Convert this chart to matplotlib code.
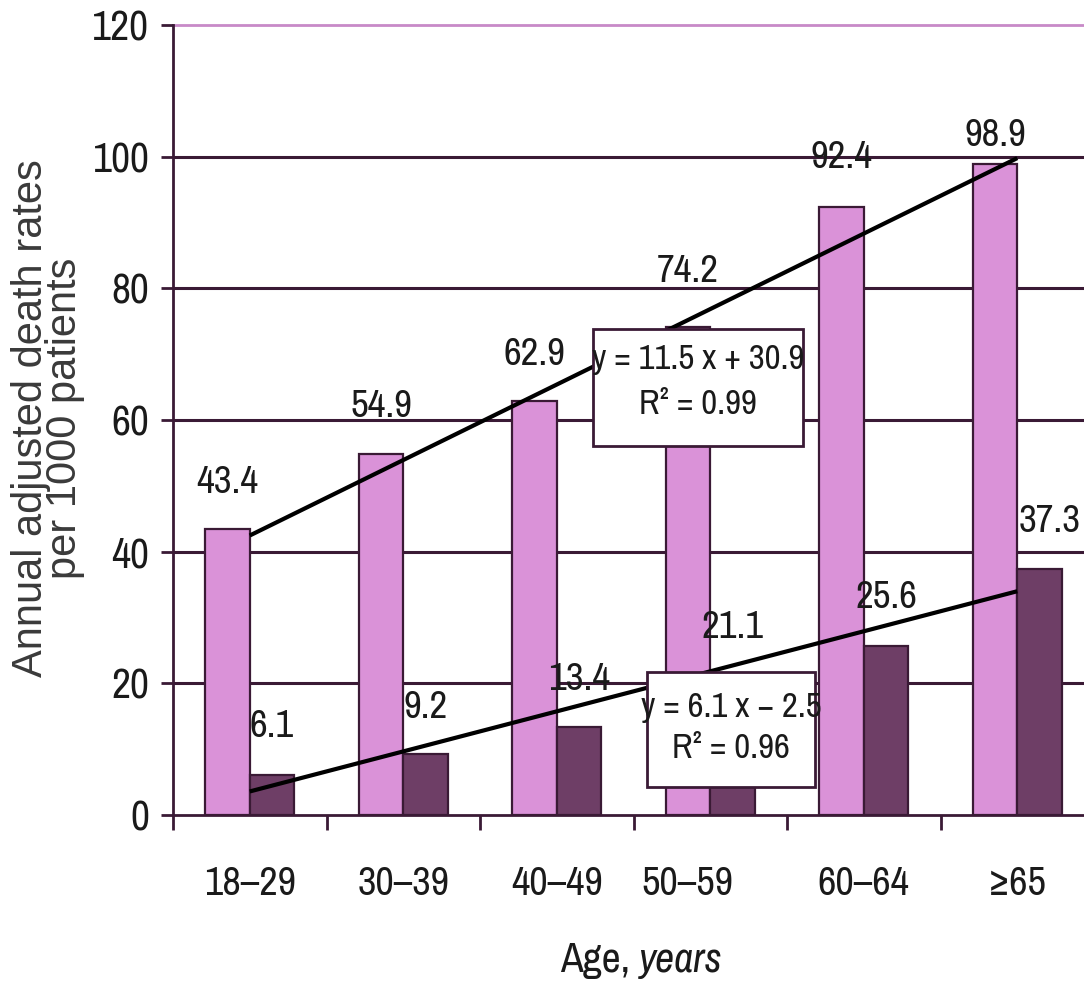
import matplotlib
matplotlib.use("Agg")
import matplotlib.pyplot as plt
from matplotlib.patches import Rectangle
import numpy as np

# ---- data ----
categories = ["18–29", "30–39", "40–49", "50–59", "60–64", "≥65"]
rates_light = [43.4, 54.9, 62.9, 74.2, 92.4, 98.9]
rates_dark = [6.1, 9.2, 13.4, 21.1, 25.6, 37.3]
eq_light = ["y = 11.5 x + 30.9", "R² = 0.99"]
eq_dark = ["y = 6.1 x \u2212 2.5", "R² = 0.96"]
yticks = [0, 20, 40, 60, 80, 100, 120]
ylabel_lines = ["Annual adjusted death rates", "per 1000 patients"]

# ---- style ----
NARROW = ["Archivo Narrow", "DejaVu Sans"]
REG = ["Liberation Sans", "DejaVu Sans"]
c_light = "#da92d8"
c_dark = "#6e3e66"
c_edge = "#3a1a35"
c_grid = "#3a1a35"
c_text = "#1a1a1a"

fig = plt.figure(figsize=(10.84, 9.94), dpi=100)
W, H = 1084, 994
ax = fig.add_axes([173 / W, 179 / H, (1094 - 173) / W, 790 / H])

n = len(categories)
x = np.arange(n)
bw = 0.29
ax.set_xlim(-0.5, n - 0.5)
ax.set_ylim(0, 120)

# gridlines
for yv in yticks[1:-1]:
    ax.axhline(yv, color=c_grid, lw=2.2, zorder=1)
ax.axhline(120, color="#c88ac8", lw=2.0, zorder=1, clip_on=False)

ax.bar(x - bw / 2, rates_light, bw, color=c_light, edgecolor=c_edge, lw=1.6, zorder=2)
ax.bar(x + bw / 2, rates_dark, bw, color=c_dark, edgecolor=c_edge, lw=1.6, zorder=2)

# trend lines (least-squares fits, x = 1..6)
xf = np.arange(1, n + 1)
for vals in (rates_light, rates_dark):
    k, b = np.polyfit(xf, vals, 1)
    ax.plot([x[0], x[-1]], [k * xf[0] + b, k * xf[-1] + b], color="black", lw=3.0,
            zorder=3, solid_capstyle="butt")

# value labels
off_light = [47, 47, 46, 55, 49, 28]
off_dark = [48, 47, 47, 49, 49, 48]
dx_dark = [0, 0, 0, 0, 0, 10]
for i, v in enumerate(rates_light):
    ax.annotate(f"{v:.1f}", (x[i] - bw / 2, v), xytext=(0, off_light[i]),
                textcoords="offset pixels", ha="center", va="center",
                fontsize=28, family=NARROW, color=c_text, zorder=5)
for i, v in enumerate(rates_dark):
    ax.annotate(f"{v:.1f}", (x[i] + bw / 2, v), xytext=(dx_dark[i], off_dark[i]),
                textcoords="offset pixels", ha="center", va="center",
                fontsize=28, family=NARROW, color=c_text, zorder=5)

# equation boxes
ax.add_patch(Rectangle((2.236, 56.0), 3.604 - 2.236, 73.8 - 56.0, facecolor="white",
                       edgecolor=c_edge, lw=2.0, zorder=4))
ax.text(2.92, 69.2, eq_light[0], ha="center", va="center", fontsize=25,
        family=NARROW, color=c_text, zorder=5)
ax.text(2.92, 62.4, eq_light[1], ha="center", va="center", fontsize=25,
        family=NARROW, color=c_text, zorder=5)
ax.add_patch(Rectangle((2.588, 4.26), 3.682 - 2.588, 21.75 - 4.26, facecolor="white",
                       edgecolor=c_edge, lw=2.0, zorder=4))
ax.text(3.135, 16.4, eq_dark[0], ha="center", va="center", fontsize=25,
        family=NARROW, color=c_text, zorder=5)
ax.text(3.135, 10.2, eq_dark[1], ha="center", va="center", fontsize=25,
        family=NARROW, color=c_text, zorder=5)

# axes styling
for s in ("top", "right"):
    ax.spines[s].set_visible(False)
for s in ("left", "bottom"):
    ax.spines[s].set_color(c_edge)
    ax.spines[s].set_linewidth(2.0)
    ax.spines[s].set_zorder(6)

ax.set_yticks(yticks)
ax.set_yticklabels([str(t) for t in yticks], fontsize=30, family=NARROW, color=c_text)
ax.tick_params(axis="y", direction="out", length=9, width=2, color=c_edge, pad=8)

ax.set_xticks(np.arange(n + 1) - 0.5)
ax.set_xticklabels([])
ax.tick_params(axis="x", which="major", direction="out", length=11, width=2, color=c_edge)
lab_shift = [0, 0, 0, -0.15, 0, 0]
ax.set_xticks(x + np.array(lab_shift), minor=True)
ax.set_xticklabels(categories, minor=True, fontsize=29, family=NARROW, color=c_text)
ax.tick_params(axis="x", which="minor", length=0, pad=36)

# y-axis title (two centred lines in one text)
fig.text(48 / W, 1 - 418 / H, "\n".join(ylabel_lines), rotation=90, ha="center",
         va="center", multialignment="center", linespacing=0.78,
         fontsize=30, family=REG, color="#3a3a3a")

# x-axis title: "Age, years" with "years" in italics
t_age = fig.text(560 / W, 1 - 960 / H, "Age,", ha="left", va="center",
                 fontsize=30, family=NARROW, color=c_text)
ax.annotate("years", xy=(1.0, 0.0), xycoords=t_age, xytext=(9, 0),
            textcoords="offset pixels", ha="left", va="bottom", fontsize=30,
            family=NARROW, style="italic", color=c_text, annotation_clip=False)

fig.savefig("out.png", dpi=100)
